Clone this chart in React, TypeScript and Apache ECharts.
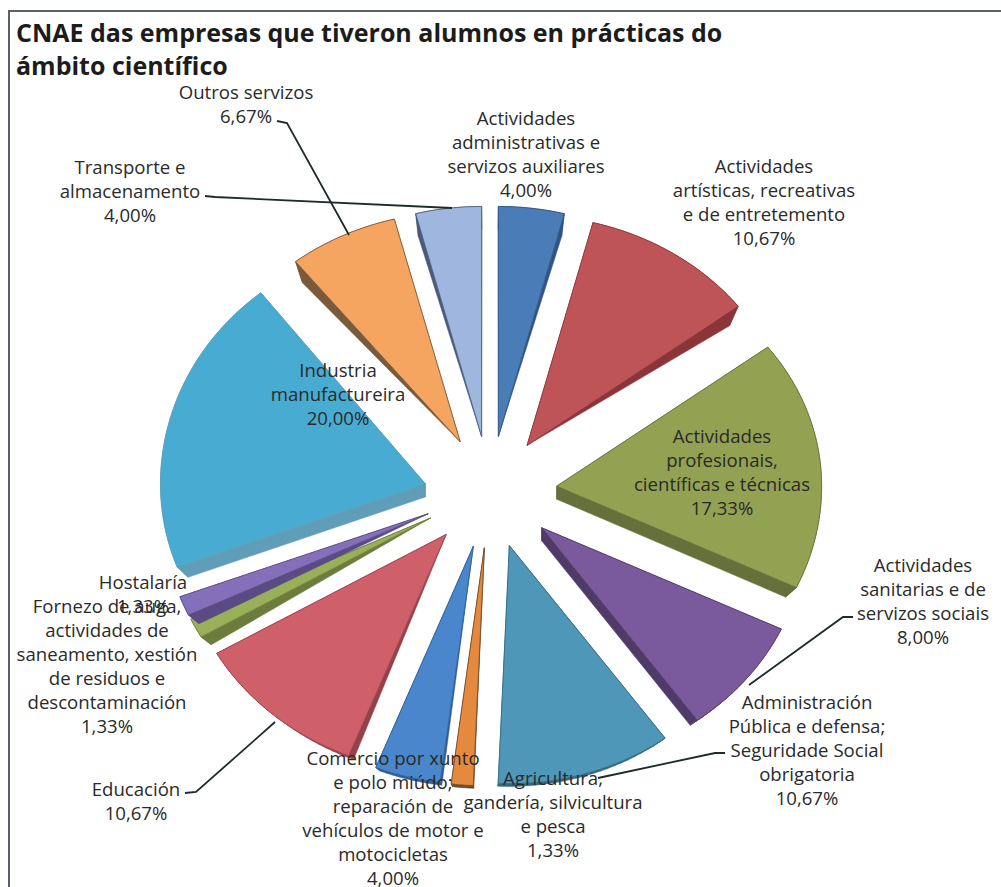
import React, { useEffect, useRef } from "react";
import * as echarts from "echarts";

const titleText = "CNAE das empresas que tiveron alumnos en prácticas do\námbito científico";

const categories = [
  "Actividades\nadministrativas e\nservizos auxiliares",
  "Actividades\nartísticas, recreativas\ne de entretemento",
  "Actividades\nprofesionais,\ncientíficas e técnicas",
  "Actividades\nsanitarias e de\nservizos sociais",
  "Administración\nPública e defensa;\nSeguridade Social\nobrigatoria",
  "Agricultura,\ngandería, silvicultura\ne pesca",
  "Comercio por xunto\ne polo miúdo;\nreparación de\nvehículos de motor e\nmotocicletas",
  "Educación",
  "Fornezo de auga,\nactividades de\nsaneamento, xestión\nde residuos e\ndescontaminación",
  "Hostalaría",
  "Industria\nmanufactureira",
  "Outros servizos",
  "Transporte e\nalmacenamento",
];
const values = [4.0, 10.67, 17.33, 8.0, 10.67, 1.33, 4.0, 10.67, 1.33, 1.33, 20.0, 6.67, 4.0];
const colors = [
  "#4a7cb8", "#bf5458", "#93a152", "#7a5a9c", "#4f97b9", "#e5893f", "#4a86cb",
  "#cf5f68", "#9ab058", "#8470ba", "#48abd1", "#f5a55f", "#9fb6df",
];
const wallColors = [
  "#2f5585", "#8b3538", "#66703a", "#4f3a68", "#33677f", "#6b4a2a", "#2f5d96",
  "#96414a", "#6c7c3c", "#5a4b85", "#5f9db8", "#7a5a3c", "#4a5a78",
];
const labelAnchors: [number, number][] = [
  [526, 153], [764, 201], [722, 471], [923, 600], [807, 749], [553, 813], [393, 817],
  [136, 800], [107, 665], [143, 593], [338, 393], [246, 103], [130, 190],
];
const leaderLines: [number, number][][] = [
  [[277, 121], [287, 123], [349, 235]],
  [[205, 196], [215, 197], [452, 208]],
  [[853, 617], [843, 617], [749, 685]],
  [[725, 753], [715, 753], [598, 778]],
  [[185, 793], [196, 792], [275, 722]],
];

const CX = 490;
const CY = 492;
const RX = 265;
const RY_TOP = 230;
const RY_TOP_INDUSTRIA = 244;
const RY_BOTTOM = 238;
const EX = 67;
const EY = 56;
const DEPTH = 13;
const SHRINK = 0.965;
const INDUSTRIA = 10;
const INDUSTRIA_DY = 7;

const total = values.reduce((a, b) => a + b, 0);

function toBottom(p: number[], depth: number) {
  return [CX + (p[0] - CX) * SHRINK, CY + (p[1] - CY) * SHRINK + depth];
}

function wallAtApex(midDeg: number) {
  return (midDeg >= 60 && midDeg <= 180) || (midDeg >= 270 && midDeg <= 300);
}

function renderSlice(params: any, api: any) {
  const i = params.dataIndex;
  let before = 0;
  for (let k = 0; k < i; k++) before += values[k];
  const a0 = (before / total) * Math.PI * 2;
  const a1 = a0 + (api.value(0) / total) * Math.PI * 2;
  const mid = (a0 + a1) / 2;
  const ax = CX + EX * Math.sin(mid);
  const ay = CY - EY * Math.cos(mid) + (i === INDUSTRIA ? INDUSTRIA_DY : 0);
  const ryTop = i === INDUSTRIA ? RY_TOP_INDUSTRIA : RY_TOP;
  const steps = Math.max(2, Math.ceil((a1 - a0) / 0.03));
  const pts: number[][] = [[ax, ay]];
  for (let s = 0; s <= steps; s++) {
    const t = a0 + ((a1 - a0) * s) / steps;
    const c = Math.cos(t);
    pts.push([ax + RX * Math.sin(t), ay - (c > 0 ? ryTop : RY_BOTTOM) * c]);
  }
  const apexDepth = wallAtApex((mid * 180) / Math.PI) ? DEPTH : 0;
  const bottoms = pts.map((p, k) => {
    if (k === 0) {
      return apexDepth === 0 ? [p[0], p[1]] : [p[0], p[1] + apexDepth];
    }
    return toBottom(p, DEPTH);
  });
  const children: any[] = [];
  for (let e = 0; e < pts.length; e++) {
    const n = (e + 1) % pts.length;
    children.push({
      type: "polygon",
      shape: { points: [pts[e], pts[n], bottoms[n], bottoms[e]] },
      style: { fill: wallColors[i], stroke: wallColors[i], lineWidth: 0.5 },
    });
  }
  children.push({
    type: "polygon",
    shape: { points: pts },
    style: { fill: colors[i], stroke: wallColors[i], lineWidth: 0.8 },
  });
  return { type: "group", children };
}

export default function App() {
  const ref = useRef<HTMLDivElement>(null);
  useEffect(() => {
    document.body.style.margin = "0";
    const chart = echarts.init(ref.current!, null, { renderer: "svg" });
    const font = "Open Sans";
    chart.setOption({
      animation: false,
      backgroundColor: "#ffffff",
      title: {
        text: titleText,
        left: 11,
        top: 10,
        textStyle: { fontFamily: font, fontSize: 25, fontWeight: "bold", color: "#1c1c1c", lineHeight: 33 },
      },
      series: [
        {
          type: "custom",
          coordinateSystem: "none",
          z: 1,
          data: values.map((v, i) => ({ value: [v], name: categories[i].replace(/\n/g, " ") })),
          renderItem: renderSlice,
        },
      ],
      graphic: [
        {
          type: "polyline",
          z: 50,
          shape: { points: [[9, 887], [9, 11], [1001, 11]] },
          style: { fill: "none", stroke: "#5a6068", lineWidth: 2 },
        },
        ...leaderLines.map((pts) => ({
          type: "polyline",
          z: 50,
          shape: { points: pts },
          style: { fill: "none", stroke: "#1f2a2a", lineWidth: 1.8 },
        })),
        ...categories.map((c, i) => ({
          type: "text",
          z: 100,
          x: labelAnchors[i][0],
          y: labelAnchors[i][1],
          style: {
            text: c + "\n" + values[i].toFixed(2).replace(".", ",") + "%",
            fontFamily: font,
            fontSize: 18.6,
            lineHeight: 24,
            fill: "#2a2a2a",
            align: "center",
            verticalAlign: "middle",
          },
        })),
      ],
    });
    return () => chart.dispose();
  }, []);
  return <div ref={ref} style={{ width: 1001, height: 887 }} />;
}
